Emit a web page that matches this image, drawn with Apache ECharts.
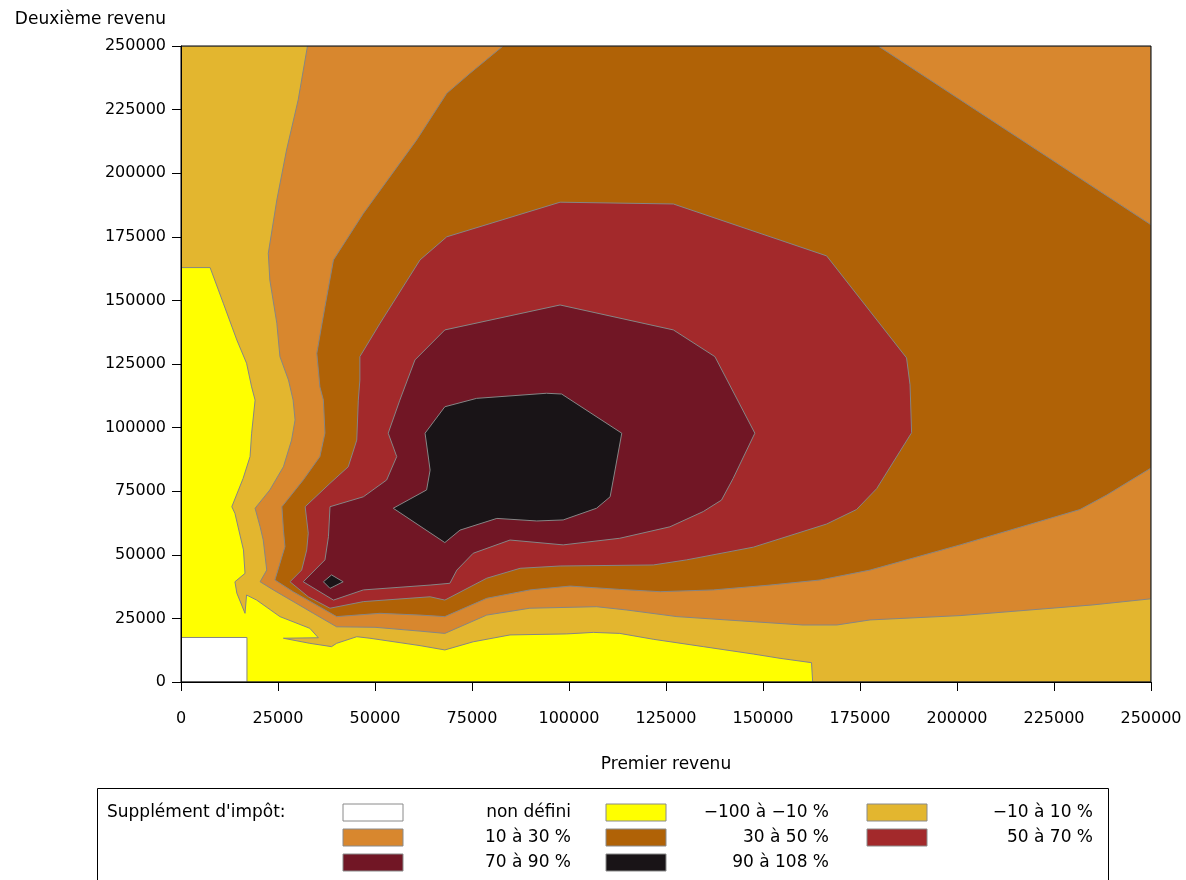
<!DOCTYPE html>
<html><head><meta charset="utf-8">
<script src="https://cdn.jsdelivr.net/npm/echarts@6/dist/echarts.min.js"></script>
<style>html,body{margin:0;padding:0;background:#fff}#c{width:1186px;height:880px}</style>
</head><body><div id="c"></div><script>
// ---- tick labels ----
const xTicks = [0,25000,50000,75000,100000,125000,150000,175000,200000,225000,250000];
const yTicks = [0,25000,50000,75000,100000,125000,150000,175000,200000,225000,250000];
const xName = 'Premier revenu';
const yName = 'Deuxième revenu';
const legendTitle = "Supplément d'impôt:";
// ---- contour levels ----
const levelNames = ['non défini','−100 à −10 %','−10 à 10 %','10 à 30 %','30 à 50 %','50 à 70 %','70 à 90 %','90 à 108 %'];
const levelColors = ['#ffffff','#ffff00','#e3b62f','#d8872e','#b06206','#a3292b','#711625','#191417'];
// ---- contour regions (superlevel sets, [premier revenu, deuxième revenu]) ----
const regionYellow = [[0,0],[250000,0],[250000,250000],[0,250000]];
const regionUndefined = [[0,0],[17000,0],[17000,17500],[0,17500]];
const regionGold = [[0,250000],[250000,250000],[250000,0],[162800,0],[162500,7600],[154400,9300],[147500,11000],[134600,13900],[121700,16800],[113100,19100],[106300,19500],[99400,18900],[84800,18500],[75300,15800],[68000,12600],[61600,14300],[48700,17200],[45300,17800],[40100,15200],[38800,13900],[33200,15200],[26400,17200],[35400,17400],[33200,21100],[25500,25700],[19500,32200],[16900,34200],[16500,27000],[14400,34900],[13900,39400],[16500,42700],[16100,51900],[13900,66300],[13100,68900],[16000,80000],[17800,88600],[18200,97800],[19100,110800],[18200,116000],[16900,125300],[14400,134400],[10900,148900],[7500,162900],[0,162900]];
const regionOrange = [[32600,250000],[250000,250000],[250000,32700],[235000,30300],[200800,26100],[177600,24400],[169000,22400],[160300,22400],[147500,23700],[127800,25700],[114900,28300],[107100,29600],[89900,29000],[78800,26300],[68000,19100],[61600,20000],[50000,21500],[40100,21700],[34100,27000],[23800,36200],[20400,39400],[22100,44000],[21200,55800],[20400,61000],[19100,68300],[22900,75500],[26400,84600],[28500,95100],[29400,103000],[28900,110800],[27700,118700],[25500,127900],[24700,141000],[22900,158000],[22500,168500],[24700,189500],[27200,209100],[30200,228800]];
const regionDarkOrange = [[83000,250000],[179700,250000],[250000,179700],[250000,84100],[238600,73500],[231700,67800],[200800,53900],[177600,44000],[164700,40100],[151800,38100],[137200,36200],[123500,35500],[113100,36400],[100300,37700],[89900,36200],[78800,32900],[68000,25700],[61600,26300],[51300,27000],[40100,25700],[28900,35500],[24200,40100],[26800,53200],[26400,59700],[26000,68900],[31500,79400],[35800,88600],[37100,97800],[36700,110800],[35800,116000],[35000,129200],[37100,147500],[39300,165900],[47000,184200],[60700,213000],[68500,231400],[74500,239300]];
const regionRed = [[97700,188600],[126900,187900],[154400,173700],[166400,167500],[187000,127400],[187900,116800],[188300,98000],[179300,76000],[174100,67800],[166400,62100],[147500,53000],[130300,48000],[121700,46000],[97700,45600],[87400,44700],[78800,40800],[68000,32200],[64200,33500],[47000,31600],[38400,29000],[32800,33500],[28100,39400],[31100,44000],[32400,51900],[32800,58500],[32000,68900],[38400,78100],[43100,84600],[45300,95100],[45700,110800],[46100,118700],[46100,127900],[51300,141000],[61600,165900],[68500,175000]];
const regionMaroon = [[97700,148200],[126900,138400],[137600,127900],[147900,97800],[142300,80000],[139300,71500],[134600,67000],[126000,61000],[113100,56500],[98500,53900],[84800,55800],[75300,50600],[71100,44000],[69300,38800],[64200,38100],[47000,36200],[39300,32200],[31500,39400],[37100,48000],[38000,57100],[38400,68900],[47000,72800],[53000,79400],[55600,88600],[53400,97800],[56400,110800],[60300,126600],[68000,138400]];
const regionBlack = [[54700,68300],[63300,75500],[64200,83300],[62900,97800],[68000,108200],[76200,111500],[94200,113500],[98100,113200],[113600,97800],[111400,79400],[110600,72800],[107100,68300],[98500,63700],[91700,63300],[81400,64300],[71900,59700],[68000,54800]];
const regionBlackSmall = [[36700,39400],[38800,42100],[41800,39400],[38400,36800]];

const layers = [
  {poly: regionYellow, level: 1},
  {poly: regionUndefined, level: 0},
  {poly: regionGold, level: 2},
  {poly: regionOrange, level: 3},
  {poly: regionDarkOrange, level: 4},
  {poly: regionRed, level: 5},
  {poly: regionMaroon, level: 6},
  {poly: regionBlack, level: 7},
  {poly: regionBlackSmall, level: 7}
];

const FONT = 'DejaVu Sans';
const chart = echarts.init(document.getElementById('c'), null, {renderer: 'canvas'});

const series = layers.map(function (ly, i) {
  const pts = ly.poly;
  return {
    type: 'custom', coordinateSystem: 'cartesian2d', silent: true, z: 2 + i * 0.01,
    clip: true,
    data: pts, encode: {x: 0, y: 1},
    renderItem: function (params, api) {
      if (params.dataIndex !== 0) return null;
      return {
        type: 'polygon',
        shape: {points: pts.map(function (p) { return api.coord(p); })},
        style: {fill: levelColors[ly.level], stroke: '#858585', lineWidth: 1}
      };
    }
  };
});

// legend drawn from the level arrays
const LFS = 17;
const legendGraphics = [];
legendGraphics.push({type: 'rect', left: 97, top: 788, shape: {width: 1011, height: 110}, style: {fill: '#fff', stroke: '#000', lineWidth: 1}, z: 100});
legendGraphics.push({type: 'text', x: 107, y: 813, style: {text: legendTitle, font: LFS + 'px "' + FONT + '"', fill: '#000', verticalAlign: 'middle'}, z: 101});
const colSwatch = [343, 606, 867];
const colTextRight = [571, 829, 1093];
const rowTop = [804, 829, 854];
levelNames.forEach(function (name, i) {
  const r = Math.floor(i / 3), c = i % 3;
  legendGraphics.push({type: 'rect', shape: {x: colSwatch[c], y: rowTop[r], width: 60, height: 17},
    style: {fill: levelColors[i], stroke: '#8a8a8a', lineWidth: 1}, z: 101});
  legendGraphics.push({type: 'text', x: colTextRight[c], y: rowTop[r] + 9,
    style: {text: name, font: LFS + 'px "' + FONT + '"', fill: '#000', align: 'right', verticalAlign: 'middle'}, z: 101});
});

chart.setOption({
  animation: false,
  backgroundColor: '#fff',
  grid: {left: 181, right: 35, top: 46, bottom: 198, show: true, borderColor: '#000', borderWidth: 1, z: 10},
  xAxis: {
    type: 'value', min: xTicks[0], max: xTicks[xTicks.length - 1], interval: xTicks[1] - xTicks[0], z: 10,
    name: xName, nameLocation: 'middle', nameGap: 74,
    nameTextStyle: {fontFamily: FONT, fontSize: 17, color: '#000'},
    axisLine: {show: true, lineStyle: {color: '#000', width: 1}},
    axisTick: {show: true, length: 9, lineStyle: {color: '#000'}},
    axisLabel: {margin: 29, fontFamily: FONT, fontSize: 16, color: '#000', formatter: function (v) { return String(v); }},
    splitLine: {show: false}
  },
  yAxis: {
    type: 'value', min: yTicks[0], max: yTicks[yTicks.length - 1], interval: yTicks[1] - yTicks[0], z: 10,
    name: yName, nameLocation: 'end', nameGap: 18,
    nameTextStyle: {fontFamily: FONT, fontSize: 17, color: '#000', align: 'right', padding: [0, 15, 0, 0]},
    axisLine: {show: true, lineStyle: {color: '#000', width: 1}},
    axisTick: {show: true, length: 9, lineStyle: {color: '#000'}},
    axisLabel: {margin: 15, fontFamily: FONT, fontSize: 16, color: '#000', formatter: function (v) { return String(v); }},
    splitLine: {show: false}
  },
  graphic: legendGraphics,
  series: series
});
</script></body></html>
